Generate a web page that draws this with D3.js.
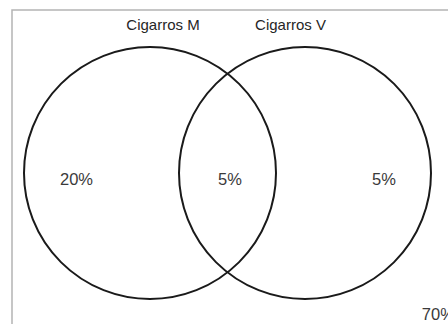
<!DOCTYPE html>
<html>
<head>
<meta charset="utf-8">
<script src="https://cdn.jsdelivr.net/npm/d3@7"></script>
<style>
  body { margin: 0; background: #fff; }
  svg { display: block; }
</style>
</head>
<body>
<div id="chart"></div>
<script>
const w = 448
const h = 324
const sets = ['Cigarros M', 'Cigarros V']
const regions = ['Solo M', 'M y V', 'Solo V', 'Ninguno']
const regionValues = [20, 5, 5, 70]

// set index -> pixel centre; region labels sit at fractional positions on the same scale
const xScale = d3.scaleLinear()
    .domain([0, 1])
    .range([150, 305])
const regionPos = [-0.474, 0.516, 1.51, 1.86]
const r = 126
const cy = 173

const svg = d3.select('#chart')
    .append('svg')
    .attr('width', w)
    .attr('height', h)

svg.append('rect')
    .attr('x', 12)
    .attr('y', 10)
    .attr('width', w)
    .attr('height', h)
    .attr('fill', 'none')
    .attr('stroke', '#b4b4b4')
    .attr('stroke-width', 1.5)

svg.selectAll('circle')
    .data(sets)
    .enter()
    .append('circle')
    .attr('cx', (d, i) => xScale(i))
    .attr('cy', cy)
    .attr('r', r)
    .attr('fill', 'none')
    .attr('stroke', '#1a1a1a')
    .attr('stroke-width', 2)

svg.selectAll('text.set')
    .data(sets)
    .enter()
    .append('text')
    .attr('class', 'set')
    .attr('x', (d, i) => xScale(i) + (i === 0 ? 13 : -14.5))
    .attr('y', 30)
    .attr('text-anchor', 'middle')
    .attr('font-family', 'Liberation Sans, Arial, sans-serif')
    .attr('font-size', 15)
    .attr('fill', '#262626')
    .text(d => d)

svg.selectAll('text.val')
    .data(regionValues)
    .enter()
    .append('text')
    .attr('class', 'val')
    .attr('x', (d, i) => xScale(regionPos[i]))
    .attr('y', (d, i) => i === 3 ? 320 : 185)
    .attr('text-anchor', 'middle')
    .attr('font-family', 'Liberation Sans, Arial, sans-serif')
    .attr('font-size', 16.5)
    .attr('fill', '#3a3a3a')
    .text(d => d + '%')
</script>
</body>
</html>
